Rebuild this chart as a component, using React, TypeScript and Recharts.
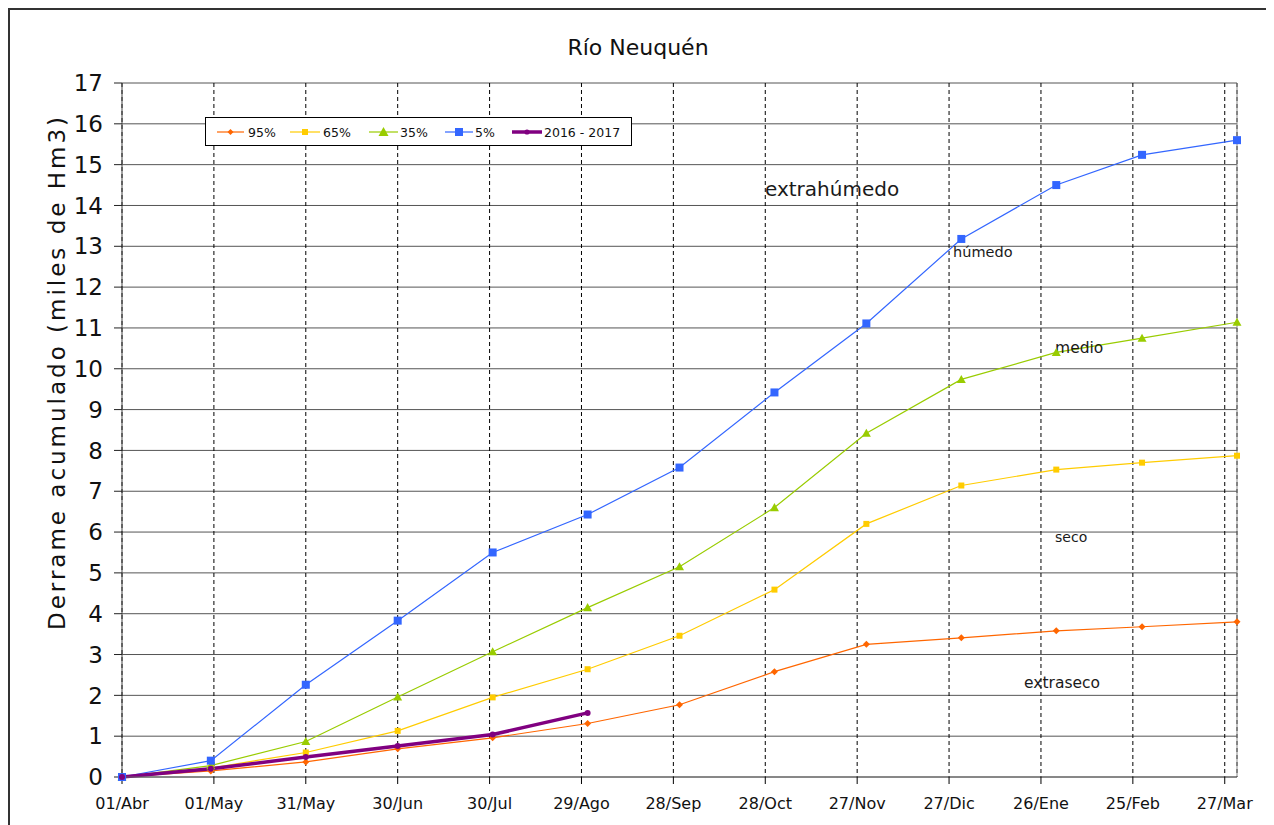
import React from "react";
import {
  LineChart,
  Line,
  XAxis,
  YAxis,
  CartesianGrid,
  Legend,
  ReferenceDot,
  ReferenceLine,
} from "recharts";

// Day offsets from 01/Abr of each monthly (accumulated) value
const DAYS = [0, 29, 60, 90, 121, 152, 182, 213, 243, 274, 305, 333, 364];

// Accumulated discharge (thousands of Hm3)
const P95 = [0, 0.15, 0.37, 0.69, 0.96, 1.31, 1.77, 2.58, 3.25, 3.41, 3.58, 3.68, 3.8];
const P65 = [0, 0.22, 0.6, 1.13, 1.95, 2.64, 3.46, 4.59, 6.2, 7.14, 7.53, 7.7, 7.87];
const P35 = [0, 0.28, 0.87, 1.96, 3.07, 4.15, 5.15, 6.6, 8.42, 9.74, 10.4, 10.75, 11.14];
const P5 = [0, 0.4, 2.26, 3.83, 5.5, 6.43, 7.58, 9.42, 11.11, 13.18, 14.5, 15.24, 15.6];
const Y2016 = [0, 0.2, 0.49, 0.76, 1.04, 1.57];

// X axis ticks
const TICK_DAYS = [0, 30, 60, 90, 120, 150, 180, 210, 240, 270, 300, 330, 360];
const TICK_LABELS = [
  "01/Abr", "01/May", "31/May", "30/Jun", "30/Jul", "29/Ago", "28/Sep",
  "28/Oct", "27/Nov", "27/Dic", "26/Ene", "25/Feb", "27/Mar",
];
const Y_TICKS = [0, 1, 2, 3, 4, 5, 6, 7, 8, 9, 10, 11, 12, 13, 14, 15, 16, 17];

const rows = DAYS.map((d, i) => ({
  day: d,
  p95: P95[i],
  p65: P65[i],
  p35: P35[i],
  p5: P5[i],
  y2016: i < Y2016.length ? Y2016[i] : null,
}));

const FONT = "'DejaVu Sans', sans-serif";
const C95 = "#FF6600";
const C65 = "#FFCC00";
const C35 = "#99CC00";
const C5 = "#3366FF";
const CPU = "#800080";

type Shape = "diamond" | "square" | "triangle" | "circle";

function marker(shape: Shape, cx: number, cy: number, s: number, color: string, key?: string) {
  if (shape === "diamond") {
    return <path key={key} d={`M${cx},${cy - s}L${cx + s},${cy}L${cx},${cy + s}L${cx - s},${cy}Z`} fill={color} />;
  }
  if (shape === "square") {
    return <rect key={key} x={cx - s} y={cy - s} width={2 * s} height={2 * s} fill={color} />;
  }
  if (shape === "triangle") {
    return <path key={key} d={`M${cx},${cy - s}L${cx + s},${cy + s * 0.8}L${cx - s},${cy + s * 0.8}Z`} fill={color} />;
  }
  return <circle key={key} cx={cx} cy={cy} r={s} fill={color} />;
}

const makeDot = (shape: Shape, s: number, color: string, id: string) => (props: any) => {
  const { cx, cy, index, value } = props;
  if (cx == null || cy == null || value == null || Number.isNaN(cy)) {
    return <g key={`${id}-${index}`} />;
  }
  return marker(shape, cx, cy, s, color, `${id}-${index}`);
};

const LEGEND_ITEMS = [
  { name: "95%", color: C95, shape: "diamond" as Shape, s: 3, w: 1.2, x1: 12, x2: 39, tx: 43 },
  { name: "65%", color: C65, shape: "square" as Shape, s: 3, w: 1.2, x1: 85, x2: 115, tx: 118 },
  { name: "35%", color: C35, shape: "triangle" as Shape, s: 5, w: 1.2, x1: 164, x2: 193, tx: 195 },
  { name: "5%", color: C5, shape: "square" as Shape, s: 4, w: 1.2, x1: 240, x2: 268, tx: 270 },
  { name: "2016 - 2017", color: CPU, shape: "circle" as Shape, s: 2.6, w: 3.5, x1: 307, x2: 337, tx: 339 },
];

const LegendBox = () => (
  <svg width={427} height={29} style={{ display: "block" }}>
    <rect x={0.5} y={0.5} width={426} height={28} fill="#fff" stroke="#000" strokeWidth={1} />
    {LEGEND_ITEMS.map((it) => (
      <g key={it.name}>
        <line x1={it.x1} x2={it.x2} y1={15} y2={15} stroke={it.color} strokeWidth={it.w} />
        {marker(it.shape, (it.x1 + it.x2) / 2, 15, it.s, it.color)}
        <text x={it.tx} y={15} dominantBaseline="central" fontSize={12.5} fontFamily={FONT} fill="#111">
          {it.name}
        </text>
      </g>
    ))}
  </svg>
);

const YLabel = () => (
  <text
    x={47}
    y={362}
    transform="rotate(-90 47 362)"
    textAnchor="middle"
    dominantBaseline="central"
    fontSize={23}
    fontFamily={FONT}
    fill="#111"
    letterSpacing={3}
  >
    Derrame acumulado (miles de Hm3)
  </text>
);

const annot = (text: string, size: number) => (props: any) => {
  const vb = props.viewBox || {};
  return (
    <text
      x={vb.x}
      y={vb.y}
      dominantBaseline="central"
      fontSize={size}
      fontFamily={FONT}
      fill="#1a1a1a"
    >
      {text}
    </text>
  );
};

export default function App() {
  return (
    <div
      style={{
        position: "relative",
        width: 1260,
        height: 830,
        border: "2px solid #333",
        boxSizing: "border-box",
        background: "#fff",
        fontFamily: FONT,
      }}
    >
      <div
        style={{
          position: "absolute",
          left: 0,
          top: 25,
          width: "100%",
          textAlign: "center",
          fontSize: 22,
          lineHeight: "26px",
          color: "#111",
          zIndex: 2,
        }}
      >
        Río Neuquén
      </div>
      <LineChart
        width={1256}
        height={815}
        data={rows}
        margin={{ top: 73, right: 29, left: 52, bottom: 8 }}
      >
        <CartesianGrid vertical={false} stroke="#555" strokeWidth={1} />
        <CartesianGrid horizontal={false} stroke="#000" strokeWidth={1} strokeDasharray="4 3" />
        <ReferenceLine x={364} stroke="#888" strokeWidth={1} />
        <XAxis
          type="number"
          dataKey="day"
          domain={[0, 364]}
          ticks={TICK_DAYS}
          interval={0}
          tickFormatter={(v: number) => TICK_LABELS[TICK_DAYS.indexOf(v)] ?? ""}
          height={40}
          tickSize={7}
          tickMargin={14}
          axisLine={{ stroke: "#666" }}
          tickLine={{ stroke: "#000" }}
          tick={{ fontSize: 16, fill: "#111", fontFamily: FONT }}
        />
        <YAxis
          type="number"
          domain={[0, 17]}
          ticks={Y_TICKS}
          interval={0}
          width={60}
          tickSize={8}
          tickMargin={11}
          axisLine={{ stroke: "#444" }}
          tickLine={{ stroke: "#222" }}
          tick={{ fontSize: 23, fill: "#111", fontFamily: FONT }}
          label={{ content: YLabel }}
        />
        <Legend
          verticalAlign="middle"
          align="center"
          content={LegendBox}
          wrapperStyle={{ left: 195, top: 107, width: 427, height: 29 }}
        />
        <Line
          type="linear"
          dataKey="p95"
          name="95%"
          stroke={C95}
          strokeWidth={1.2}
          dot={makeDot("diamond", 3.5, C95, "p95")}
          activeDot={false}
          isAnimationActive={false}
        />
        <Line
          type="linear"
          dataKey="p65"
          name="65%"
          stroke={C65}
          strokeWidth={1.2}
          dot={makeDot("square", 3, C65, "p65")}
          activeDot={false}
          isAnimationActive={false}
        />
        <Line
          type="linear"
          dataKey="p35"
          name="35%"
          stroke={C35}
          strokeWidth={1.2}
          dot={makeDot("triangle", 4.5, C35, "p35")}
          activeDot={false}
          isAnimationActive={false}
        />
        <Line
          type="linear"
          dataKey="p5"
          name="5%"
          stroke={C5}
          strokeWidth={1.2}
          dot={makeDot("square", 4, C5, "p5")}
          activeDot={false}
          isAnimationActive={false}
        />
        <Line
          type="linear"
          dataKey="y2016"
          name="2016 - 2017"
          stroke={CPU}
          strokeWidth={3.5}
          dot={makeDot("circle", 3, CPU, "y2016")}
          activeDot={false}
          connectNulls={false}
          isAnimationActive={false}
        />
        <ReferenceDot x={209.9} y={14.4} r={0} fill="none" stroke="none" label={annot("extrahúmedo", 20)} />
        <ReferenceDot x={271.3} y={12.86} r={0} fill="none" stroke="none" label={annot("húmedo", 14.5)} />
        <ReferenceDot x={304.6} y={10.52} r={0} fill="none" stroke="none" label={annot("medio", 15.5)} />
        <ReferenceDot x={304.6} y={5.89} r={0} fill="none" stroke="none" label={annot("seco", 14)} />
        <ReferenceDot x={294.5} y={2.31} r={0} fill="none" stroke="none" label={annot("extraseco", 15.5)} />
      </LineChart>
    </div>
  );
}
